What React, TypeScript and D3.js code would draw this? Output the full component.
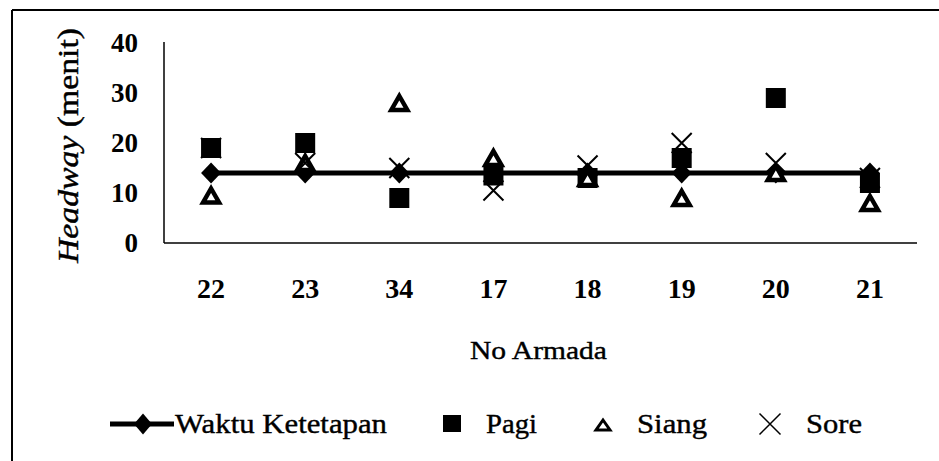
import React from "react";
import * as d3 from "d3";

const categories = ["22", "23", "34", "17", "18", "19", "20", "21"];
const waktuKetetapan = [14, 14, 14, 14, 14, 14, 14, 14];
const pagi = [19, 20, 9, 13.5, 13, 17, 29, 12];
const siang = [9.5, 16, 28, 17, 13, 9, 14, 8];
const sore = [19, 16, 15, 10.5, 15.5, 20, 16, 13];
const yTicks = [0, 10, 20, 30, 40];
const legendLabels = ["Waktu Ketetapan", "Pagi", "Siang", "Sore"];

const W = 939;
const H = 461;
const FONT = "Liberation Serif, Times New Roman, serif";

export default function App() {
  const x = d3.scaleBand<string>().domain(categories).range([164, 917]).padding(0);
  const y = d3.scaleLinear().domain([0, 40]).range([243, 43]);
  const cx = (c: string) => (x(c) as number) + x.bandwidth() / 2;

  const line = d3
    .line<number>()
    .x((_, i) => cx(categories[i]))
    .y((d) => y(d));

  const diamond = (px: number, py: number, w: number, h: number) =>
    `M${px},${py - h / 2}L${px + w / 2},${py}L${px},${py + h / 2}L${px - w / 2},${py}Z`;
  const triangle = (px: number, py: number, w: number, h: number) =>
    `M${px},${py - h / 2}L${px + w / 2},${py + h / 2}L${px - w / 2},${py + h / 2}Z`;
  const cross = (px: number, py: number, s: number) =>
    `M${px - s / 2},${py - s / 2}L${px + s / 2},${py + s / 2}M${px + s / 2},${py - s / 2}L${px - s / 2},${py + s / 2}`;

  const legY = 424;
  const legBase = 433;
  const textStroke = { stroke: "#000", strokeWidth: 0.4 };

  return (
    <svg width={W} height={H} style={{ position: "absolute", left: 0, top: 0, background: "#fff" }}>
      <rect x={0} y={0} width={W} height={H} fill="#fff" />
      {/* frame */}
      <line x1={12} y1={10} x2={W} y2={10} stroke="#000" strokeWidth={2} />
      <line x1={12} y1={10} x2={12} y2={H} stroke="#000" strokeWidth={2} />

      {/* axes */}
      <line x1={164} y1={42} x2={164} y2={243} stroke="#000" strokeWidth={1.5} />
      <line x1={164} y1={243} x2={917} y2={243} stroke="#000" strokeWidth={1.5} />

      {/* y ticks */}
      {yTicks.map((t) => (
        <text key={t} x={138} y={y(t)} textAnchor="end" dominantBaseline="central" fontFamily={FONT} fontWeight="bold" fontSize={27}>
          {t}
        </text>
      ))}

      {/* x ticks */}
      {categories.map((c) => (
        <text key={c} x={cx(c)} y={298} textAnchor="middle" fontFamily={FONT} fontWeight="bold" fontSize={28}>
          {c}
        </text>
      ))}

      {/* axis titles */}
      <text x={470} y={359} fontFamily={FONT} fontSize={26} textLength={137} lengthAdjust="spacingAndGlyphs" {...textStroke}>
        No Armada
      </text>
      <text
        transform={`translate(78,${145.5}) rotate(-90)`}
        textAnchor="middle"
        fontFamily={FONT}
        fontSize={29}
        textLength={235}
        lengthAdjust="spacingAndGlyphs"
        {...textStroke}
      >
        <tspan fontStyle="italic">Headway</tspan> (menit)
      </text>

      {/* Waktu Ketetapan line + diamonds */}
      <path d={line(waktuKetetapan) || ""} fill="none" stroke="#000" strokeWidth={5} />
      {waktuKetetapan.map((v, i) => (
        <path key={"d" + i} d={diamond(cx(categories[i]), y(v), 20, 21)} fill="#000" />
      ))}

      {/* Pagi squares */}
      {pagi.map((v, i) => (
        <rect key={"p" + i} x={cx(categories[i]) - 10} y={y(v) - 10} width={20} height={20} fill="#000" />
      ))}

      {/* Siang triangles */}
      {siang.map((v, i) => (
        <path key={"s" + i} d={triangle(cx(categories[i]), y(v), 16, 14)} fill="#fff" stroke="#000" strokeWidth={4.5} />
      ))}

      {/* Sore crosses */}
      {sore.map((v, i) => (
        <path key={"x" + i} d={cross(cx(categories[i]), y(v), 20)} stroke="#000" strokeWidth={2} fill="none" />
      ))}

      {/* legend */}
      <line x1={110} y1={legY} x2={174} y2={legY} stroke="#000" strokeWidth={5} />
      <path d={diamond(143, legY, 18, 21)} fill="#000" />
      <text x={175} y={legBase} fontFamily={FONT} fontSize={28} textLength={212} lengthAdjust="spacingAndGlyphs" {...textStroke}>
        {legendLabels[0]}
      </text>

      <rect x={443} y={legY - 9} width={18} height={17} fill="#000" />
      <text x={486} y={legBase} fontFamily={FONT} fontSize={28} textLength={51} lengthAdjust="spacingAndGlyphs" {...textStroke}>
        {legendLabels[1]}
      </text>

      <path d={triangle(603, legY + 1, 14, 10)} fill="#fff" stroke="#000" strokeWidth={3} />
      <text x={637} y={legBase} fontFamily={FONT} fontSize={28} textLength={70} lengthAdjust="spacingAndGlyphs" {...textStroke}>
        {legendLabels[2]}
      </text>

      <path d={cross(770, legY, 21)} stroke="#000" strokeWidth={1.5} fill="none" />
      <text x={806} y={legBase} fontFamily={FONT} fontSize={28} textLength={56} lengthAdjust="spacingAndGlyphs" {...textStroke}>
        {legendLabels[3]}
      </text>
    </svg>
  );
}
